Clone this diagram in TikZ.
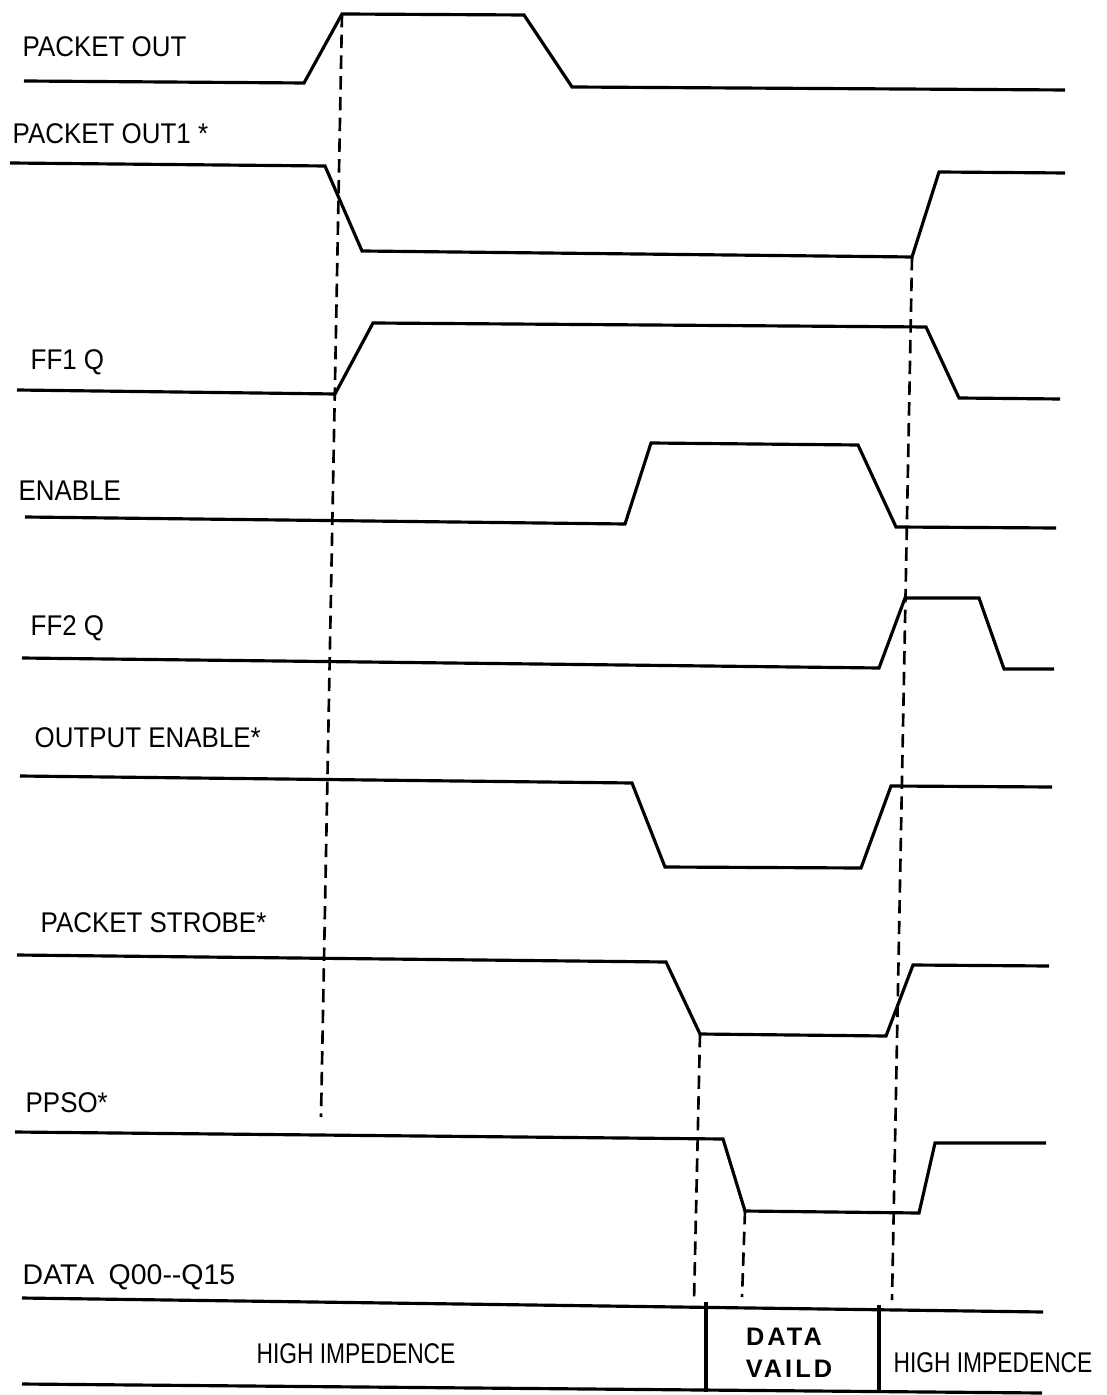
\documentclass[tikz,border=0pt]{standalone}
\usepackage{graphicx}
\usepackage{fontspec}
\setmainfont{Liberation Sans}
\newcommand{\sq}[1]{\scalebox{0.91}[1]{#1}}
\begin{document}
\begin{tikzpicture}[x=0.01cm,y=-0.01cm,
  sig/.style={line width=0.9pt, line join=miter},
  guide/.style={line width=0.75pt, dash pattern=on 3.8pt off 2.1pt},
  lbl/.style={anchor=base west, inner sep=0pt, font=\fontsize{8.1}{9}\selectfont},
  ctr/.style={anchor=base, inner sep=0pt, font=\fontsize{8.1}{9}\selectfont},
  bold/.style={anchor=base, inner sep=0pt, font=\fontsize{7.2}{9}\selectfont\bfseries\addfontfeature{LetterSpace=12}},
  bus/.style={line width=1.3pt}]
\useasboundingbox (0,0) rectangle (1107,1395);

% labels
\node[lbl] (l1) at (22,57)   {\sq{PACKET OUT}};
\node[lbl] (l2) at (12,144)  {\sq{PACKET OUT1 *}};
\node[lbl] (l3) at (30,370)  {\sq{FF1 Q}};
\node[lbl] (l4) at (18,501)  {\sq{ENABLE}};
\node[lbl] (l5) at (30,636)  {\sq{FF2 Q}};
\node[lbl] (l6) at (34,747)  {\sq{OUTPUT ENABLE*}};
\node[lbl] (l7) at (40,932)  {\sq{PACKET STROBE*}};
\node[lbl] (l8) at (25,1112) {\sq{PPSO*}};
\node[lbl] (l9) at (22,1284) {DATA\hspace{0.5em}Q00-{}-Q15};

% signals
\draw[sig] (24,81) -- (304,83) -- (342,14) coordinate (po) -- (524,15) -- (572,87) -- (1065,90);
\draw[sig] (10,163) -- (325,166) -- (362,251) -- (912,257) coordinate (po1) -- (939,172) -- (1065,173);
\draw[sig] (17,390) -- (335,394) -- (373,323) -- (926,327) -- (959,398) -- (1060,399);
\draw[sig] (25,517) -- (625,524) -- (651,443) -- (858,445) -- (896,527) -- (1056,528);
\draw[sig] (22,658) -- (879,668) -- (905,598) -- (979,598) -- (1004,669) -- (1054,669);
\draw[sig] (20,776) -- (632,783) -- (665,867) -- (861,868) -- (891,786) -- (1052,787);
\draw[sig] (17,955) -- (666,962) -- (700,1034) coordinate (ps) -- (886,1036) -- (913,965) -- (1049,966);
\draw[sig] (15,1132) -- (723,1139) -- (745,1211) coordinate (pp) -- (919,1213) -- (935,1143) -- (1046,1143);

% data bus
\draw[sig] (22,1298) -- (1043,1312);
\draw[sig] (22,1384) -- (1042,1393);
\coordinate (v1t) at (706,1302);
\coordinate (v1b) at (706,1392);
\coordinate (v2t) at (879,1305);
\coordinate (v2b) at (879,1393);
\draw[bus] (v1t) -- (v1b);
\draw[bus] (v2t) -- (v2b);

\node[ctr] (hz1) at (356,1363) {\scalebox{0.8}[1]{HIGH IMPEDENCE}};
\node[ctr] (hz2) at (993,1372) {\scalebox{0.8}[1]{HIGH IMPEDENCE}};
\node[bold] (dv1) at (784,1345) {DATA};
\node[bold] (dv2) at (789,1377) {VAILD};

% timing guides
\coordinate (e1) at (321,1117);
\coordinate (e2) at (892,1300);
\coordinate (e3) at (694,1301);
\coordinate (e4) at (742,1297);
\draw[guide] (po) -- (e1);
\draw[guide] (po1) -- (e2);
\draw[guide] (ps) -- (e3);
\draw[guide] (pp) -- (e4);
\end{tikzpicture}
\end{document}
